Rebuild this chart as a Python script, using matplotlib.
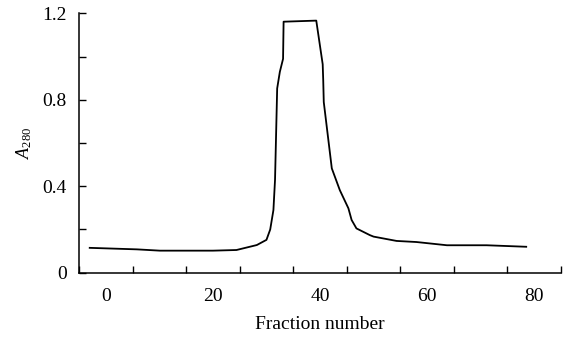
import numpy as np
import matplotlib
matplotlib.use('Agg')
from matplotlib import pyplot as plt

plt.rcParams['font.family'] = ['Liberation Serif', 'DejaVu Serif']
plt.rcParams['mathtext.fontset'] = 'custom'
plt.rcParams['mathtext.rm'] = 'Liberation Serif'
plt.rcParams['mathtext.it'] = 'Liberation Serif:italic'

## Data ##
fraction = [-3.0, 5.8, 10.1, 15.7, 20.0, 24.4, 28.2, 30.0, 30.7, 31.3, 31.6,
            32.0, 32.5, 33.1, 33.2, 39.3, 40.5, 40.6, 40.7, 42.2, 43.7,
            45.3, 45.9, 46.8, 49.3, 50.0, 54.3, 58.0, 63.7, 71.1, 78.5]
absorb = [0.115, 0.108, 0.102, 0.102, 0.102, 0.105, 0.128, 0.152, 0.20, 0.29, 0.43,
          0.853, 0.93, 0.99, 1.162, 1.167, 0.965, 0.89, 0.79, 0.483, 0.382,
          0.298, 0.244, 0.205, 0.174, 0.167, 0.147, 0.142, 0.127, 0.127, 0.12]

xlabels = [0, 20, 40, 60, 80]
xticks = np.arange(-5, 90, 10)
ylabels = [0, 0.4, 0.8, 1.2]
yticks_minor = [0.2, 0.6, 1.0]

fig = plt.figure(figsize=(5.66, 3.44), dpi=100)
ax = fig.add_axes([0.1396, 0.2073, 0.8516, 0.7535])

ax.plot(fraction, absorb, color='k', lw=1.3)

ax.set_xlim(-5, 85)
ax.set_ylim(0, 1.2)

# x: labels sit between the ticks
ax.set_xticks(xlabels)
ax.set_xticklabels([str(v) for v in xlabels])
ax.set_xticks(xticks, minor=True)
ax.tick_params(axis='x', which='major', length=0, pad=11, labelsize=14)
ax.tick_params(axis='x', which='minor', direction='in', length=5, width=1)

ax.set_yticks(ylabels)
ax.set_yticklabels(['0', '0.4', '0.8', '1.2'])
ax.set_yticks(yticks_minor, minor=True)
ax.tick_params(axis='y', which='both', direction='in', length=5, width=1, pad=9, labelsize=14)

for s in ['top', 'right']:
    ax.spines[s].set_visible(False)
for s in ['left', 'bottom']:
    ax.spines[s].set_linewidth(1.1)

ax.set_xlabel('Fraction number', fontsize=14, labelpad=8)
ax.set_ylabel(r'$A_{280}$', fontsize=13, labelpad=6)

fig.savefig('out.png', dpi=100)
